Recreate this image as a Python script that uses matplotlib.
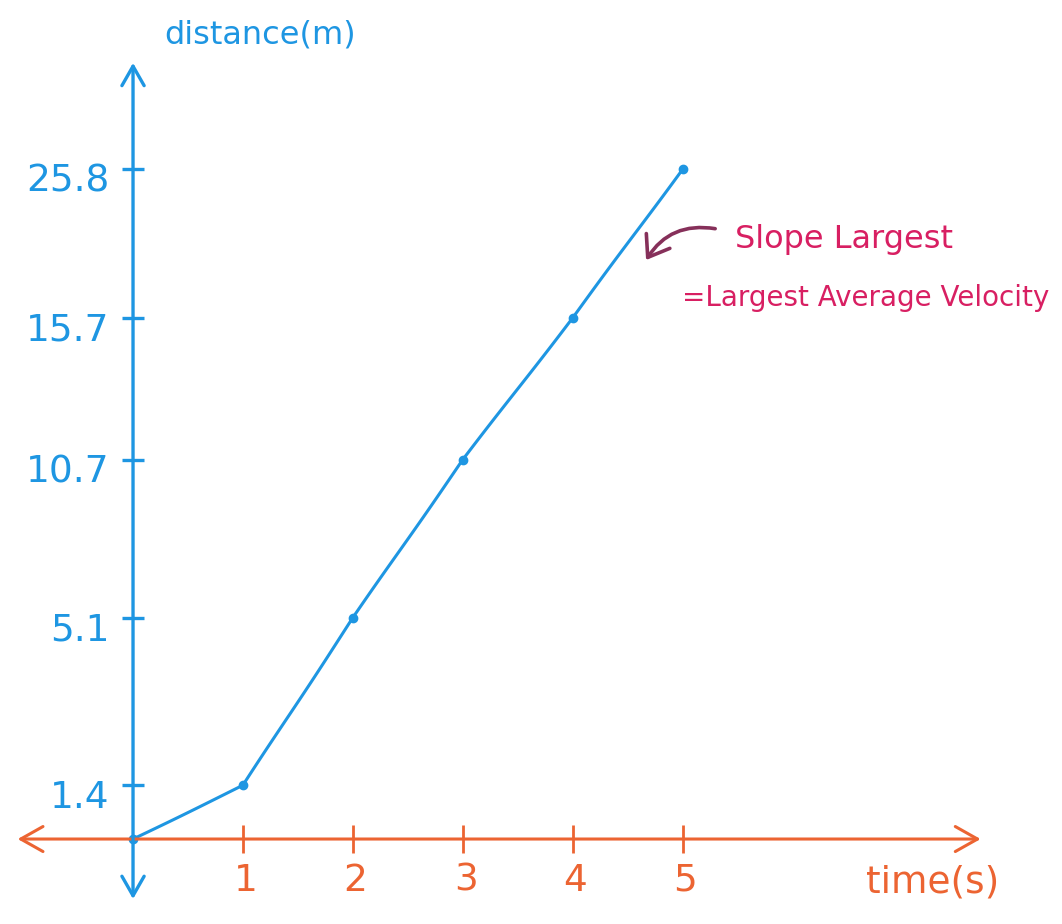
import numpy as np
import matplotlib
matplotlib.use("Agg")
import matplotlib.pyplot as plt

# data
time_s = [0, 1, 2, 3, 4, 5]
distance_m = [0, 1.4, 5.1, 10.7, 15.7, 25.8]
x_ticks = [1, 2, 3, 4, 5]
y_ticks = [1.4, 5.1, 10.7, 15.7, 25.8]

# the y axis is not drawn to scale: each labelled value sits on its own rung
scale_vals = [0, 1.4, 5.1, 10.7, 15.7, 25.8]
rungs = [0, 0.40, 1.65, 2.83, 3.89, 5.0]

BLUE = "#1e96e2"
ORANGE = "#ec6432"
PINK = "#d81f62"
PLUM = "#86305a"

plt.rcParams["font.family"] = ["DejaVu Sans"]


def to_rung(v):
    v = np.asarray(v, dtype=float)
    r = np.interp(v, scale_vals, rungs)
    lo = (rungs[1] - rungs[0]) / (scale_vals[1] - scale_vals[0])
    hi = (rungs[-1] - rungs[-2]) / (scale_vals[-1] - scale_vals[-2])
    r = np.where(v < scale_vals[0], rungs[0] + (v - scale_vals[0]) * lo, r)
    r = np.where(v > scale_vals[-1], rungs[-1] + (v - scale_vals[-1]) * hi, r)
    return r


def from_rung(r):
    r = np.asarray(r, dtype=float)
    v = np.interp(r, rungs, scale_vals)
    lo = (scale_vals[1] - scale_vals[0]) / (rungs[1] - rungs[0])
    hi = (scale_vals[-1] - scale_vals[-2]) / (rungs[-1] - rungs[-2])
    v = np.where(r < rungs[0], scale_vals[0] + (r - rungs[0]) * lo, v)
    v = np.where(r > rungs[-1], scale_vals[-1] + (r - rungs[-1]) * hi, v)
    return v


fig = plt.figure(figsize=(10.62, 9.24), dpi=100)
ax = fig.add_axes([0, 0, 1, 1])
ax.set_yscale("function", functions=(to_rung, from_rung))
ax.set_xlim(-1.21, 8.45)
ax.set_ylim(float(from_rung(-0.634)), float(from_rung(6.26)))
ax.axis("off")

# axes with arrow heads
ax.annotate("", xy=(0.014, 0), xytext=(0.926, 0), xycoords=ax.get_yaxis_transform(),
            arrowprops=dict(arrowstyle="<->,head_length=0.8,head_width=0.45",
                            color=ORANGE, lw=2.2, mutation_scale=20))
ax.annotate("", xy=(0, 0.935), xytext=(0, 0.024), xycoords=ax.get_xaxis_transform(),
            arrowprops=dict(arrowstyle="<->,head_length=0.7,head_width=0.4",
                            color=BLUE, lw=2.4, mutation_scale=20))

# tick marks
ax.plot(x_ticks, [0] * len(x_ticks), ls="none", marker="|", ms=20, mew=2, color=ORANGE)
ax.plot([0] * len(y_ticks), y_ticks, ls="none", marker="_", ms=16, mew=2.4, color=BLUE)

for t in x_ticks:
    ax.annotate(str(t), xy=(t, 0), xytext=(2, -30), textcoords="offset points",
                ha="center", va="center", fontsize=27, color=ORANGE)
for d in y_ticks:
    ax.annotate(f"{d:g}", xy=(0, d), xytext=(-17, -9), textcoords="offset points",
                ha="right", va="center", fontsize=27, color=BLUE)

ax.text(0.155, 0.962, "distance(m)", transform=ax.transAxes, fontsize=23,
        color=BLUE, ha="left", va="center")
ax.text(0.815, 0.045, "time(s)", transform=ax.transAxes, fontsize=27,
        color=ORANGE, ha="left", va="center")

# the data
line, = ax.plot(time_s, distance_m, color=BLUE, lw=2.2, marker="o", ms=6)
line.set_sketch_params(0.3, 200, 1)

# note on the steepest segment
ax.annotate("", xy=(0.607, 0.716), xytext=(0.676, 0.752), xycoords="axes fraction",
            arrowprops=dict(arrowstyle="->,head_length=0.7,head_width=0.5",
                            color=PLUM, lw=2.6, mutation_scale=20,
                            connectionstyle="arc3,rad=0.35"))
ax.text(0.692, 0.741, "Slope Largest", transform=ax.transAxes, fontsize=23,
        color=PINK, ha="left", va="center")
ax.text(0.642, 0.677, "=Largest Average Velocity", transform=ax.transAxes, fontsize=20,
        color=PINK, ha="left", va="center")

fig.savefig("out.png", dpi=100)
